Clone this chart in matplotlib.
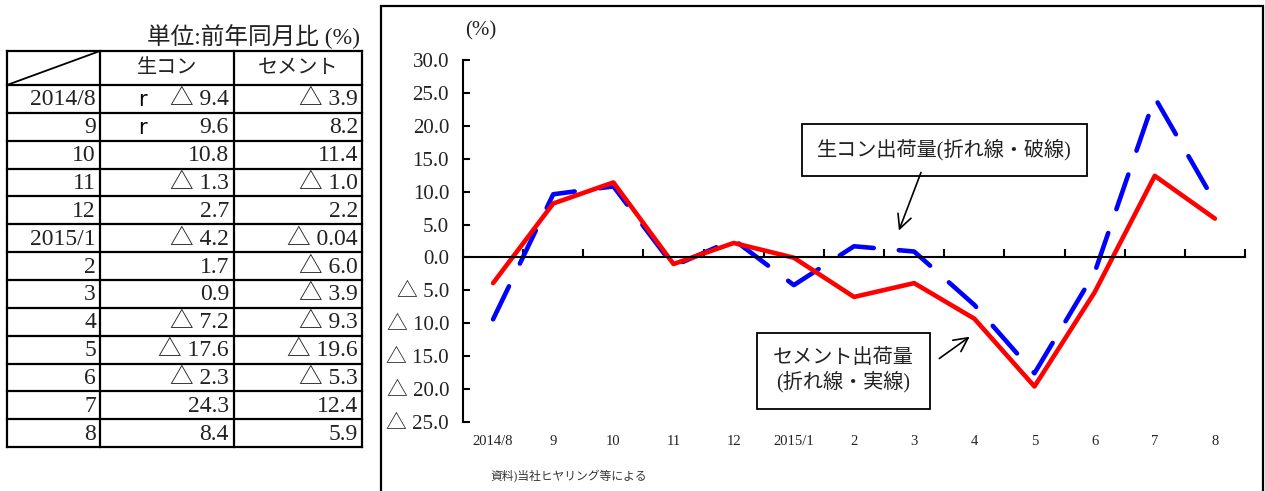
import numpy as np
import matplotlib.pyplot as plt
from matplotlib.patches import Rectangle
from matplotlib.ticker import FuncFormatter
from matplotlib.transforms import blended_transform_factory

plt.rcParams['font.family'] = ['Liberation Serif', 'Noto Sans CJK JP', 'DejaVu Sans']

# データ (前年同月比 %)
months = ['2014/8', '9', '10', '11', '12', '2015/1', '2', '3', '4', '5', '6', '7', '8']
namacon = [-9.4, 9.6, 10.8, -1.3, 2.7, -4.2, 1.7, 0.9, -7.2, -17.6, -2.3, 24.3, 8.4]
cement = [-3.9, 8.2, 11.4, -1.0, 2.2, -0.04, -6.0, -3.9, -9.3, -19.6, -5.3, 12.4, 5.9]
revised = [True, True] + [False] * 11

txt = '#222222'


def fmt(v):
    s = f'{abs(v):.2f}'.rstrip('0')
    if s.endswith('.'):
        s += '0'
    return '△ ' + s if v < 0 else s


fig = plt.figure(figsize=(12.65, 4.91), dpi=100)

# ---- 左の表 (ピクセル座標) ----
tab = fig.add_axes([0, 0, 1, 1])
tab.set_xlim(0, 1265)
tab.set_ylim(491, 0)
tab.axis('off')

cols = [7, 100, 234, 362]
top, head_bot, rh = 51, 85, 27.85
nrow = len(months)
bot = head_bot + rh * nrow
lw = 1.6
for xc in cols:
    tab.plot([xc, xc], [top, bot], color='k', lw=lw)
for yr in [top, head_bot] + [head_bot + rh * (i + 1) for i in range(nrow)]:
    tab.plot([cols[0], cols[-1]], [yr, yr], color='k', lw=lw)
tab.plot([cols[0], cols[1]], [head_bot, top], color='k', lw=1.3)

tab.text(360, 37, '単位:前年同月比 (%)', ha='right', va='center', fontsize=17, color=txt)
tab.text((cols[1] + cols[2]) / 2, 68, '生コン', ha='center', va='center', fontsize=14.5, color=txt)
tab.text((cols[2] + cols[3]) / 2, 68, 'セメント', ha='center', va='center', fontsize=14.5, color=txt)

for i, m in enumerate(months):
    yc = head_bot + rh * (i + 0.5) + 1
    tab.text(cols[1] - 4, yc, m, ha='right', va='center', fontsize=17, color=txt)
    tab.text(cols[2] - 5, yc, fmt(namacon[i]), ha='right', va='center', fontsize=17, color=txt)
    tab.text(cols[3] - 4, yc, fmt(cement[i]), ha='right', va='center', fontsize=17, color=txt)
    if revised[i]:
        tab.text(138, yc, 'r', ha='left', va='center', fontsize=15,
                 family='DejaVu Sans', color='k')

# ---- 右のグラフ ----
fig.add_artist(Rectangle((381 / 1265, -0.05), (1263 - 381) / 1265, 485 / 491 + 0.05,
                         transform=fig.transFigure, fill=False, edgecolor='k', lw=1.6))

ax = fig.add_axes([463 / 1265, 69 / 491, 782 / 1265, 362 / 491])
x = np.arange(len(months))
ax.plot(x, namacon, color='#0000ff', lw=3.3, dashes=(8, 5.5),
        dash_capstyle='round', solid_joinstyle='round')
ax.plot(x, cement, color='#ff0000', lw=3.3, solid_capstyle='round', solid_joinstyle='round')

ax.set_xlim(-0.5, len(months) - 0.5)
ax.set_ylim(-25, 30)
ax.set_yticks(np.arange(-25, 31, 5))
ax.yaxis.set_major_formatter(FuncFormatter(lambda v, p: f'△ {abs(v):.1f}' if v < 0 else f'{v:.1f}'))
for s in ['top', 'right']:
    ax.spines[s].set_visible(False)
ax.spines['bottom'].set_position(('data', 0))
ax.spines['bottom'].set_linewidth(1.5)
ax.spines['left'].set_linewidth(1.5)
ax.set_xticks(np.arange(-0.5, len(months), 1))
ax.tick_params(axis='x', direction='in', length=6, width=1.5, labelbottom=False)
ax.tick_params(axis='y', direction='in', length=5, width=1.5, labelsize=15, pad=10,
               labelcolor=txt)

tr = blended_transform_factory(ax.transData, ax.transAxes)
for i, m in enumerate(months):
    ax.text(i, -0.035, m, transform=tr, ha='center', va='top', fontsize=10.5, color=txt)

ax.text(0.023, 1.08, '(%)', transform=ax.transAxes, ha='center', va='center',
        fontsize=15, color=txt)
ax.text(0.035, -0.15, '資料)当社ヒヤリング等による', transform=ax.transAxes, ha='left',
        va='center', fontsize=8.5, color='#333333')

# 注記
box = dict(boxstyle='square,pad=0.75', facecolor='white', edgecolor='k', lw=1.3)
ax.text(7.5, 16.3, '生コン出荷量(折れ線・破線)', ha='center', va='center',
        fontsize=14.5, color=txt, bbox=box)
ax.annotate('', xy=(6.73, 3.7), xytext=(7.13, 13.3),
            arrowprops=dict(arrowstyle='->', lw=1.2, color='k', mutation_scale=25))
ax.text(5.82, -17.25, 'セメント出荷量\n(折れ線・実線)', ha='center', va='center',
        fontsize=14.5, color=txt, linespacing=1.2,
        bbox=dict(boxstyle='square,pad=0.8', facecolor='white', edgecolor='k', lw=1.3))
ax.annotate('', xy=(7.96, -11.8), xytext=(7.38, -15.6),
            arrowprops=dict(arrowstyle='->', lw=1.2, color='k', mutation_scale=25))

fig.savefig('out.png', dpi=100)
